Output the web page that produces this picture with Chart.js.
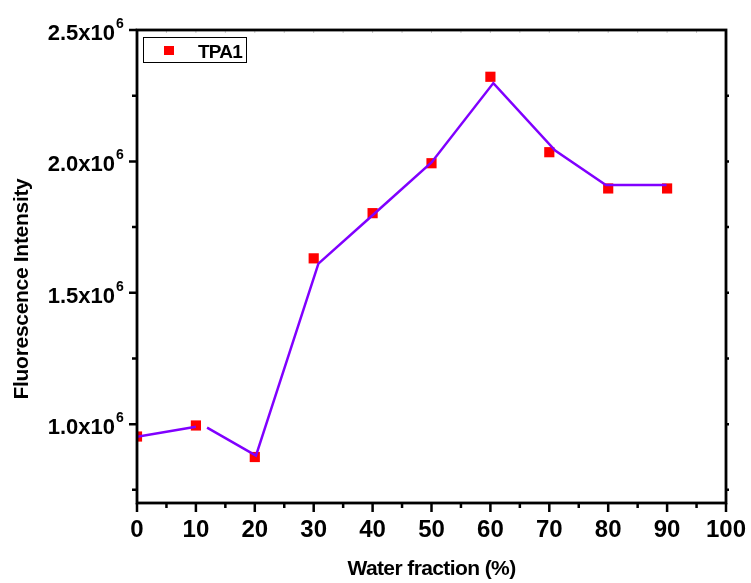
<!DOCTYPE html>
<html>
<head>
<meta charset="utf-8">
<script src="https://cdn.jsdelivr.net/npm/chart.js@4/dist/chart.umd.min.js"></script>
<style>
    html, body { margin: 0; padding: 0; background: #fff; }
    #wrap { width: 751px; height: 583px; }
</style>
</head>
<body>
<div id="wrap"><canvas id="chart-fluorescence"></canvas></div>
<script>
// Fluorescence intensity (x10^6) against water fraction (%)
const waterFraction = [0, 10, 20, 30, 40, 50, 60, 70, 80, 90];
const intensity = [0.953, 0.995, 0.875, 1.631, 1.803, 1.993, 2.322, 2.035, 1.897, 1.897];

// connecting trace (has a break just after 10 %)
const traceX = [0, 10, 11, 11.9, 20.2, 30.8, 40, 50, 60.5, 71, 79.6, 89.9];
const traceY = [0.952, 0.99, null, 0.987, 0.88, 1.611, 1.795, 1.996, 2.298, 2.041, 1.91, 1.91];

const xTicks = [0, 10, 20, 30, 40, 50, 60, 70, 80, 90, 100];
const yTicks = [1.0, 1.5, 2.0, 2.5];
const yMinorTicks = [0.75, 1.25, 1.75, 2.25];
const seriesLabel = 'TPA1';
const xTitle = 'Water fraction (%)';
const yTitle = 'Fluorescence Intensity';

const FONT = '"Liberation Sans", Arial, sans-serif';

// axes frame, tick marks, tick labels, titles and the boxed legend
const originFrame = {
    id: 'originFrame',
    afterDraw(chart) {
        const { ctx, chartArea: a, scales: { x, y } } = chart;
        ctx.save();
        ctx.strokeStyle = '#000';
        ctx.fillStyle = '#000';

        // ticks
        ctx.lineWidth = 2.5;
        ctx.beginPath();
        xTicks.forEach((v, i) => {
            const px = x.getPixelForValue(v);
            ctx.moveTo(px, a.bottom); ctx.lineTo(px, a.bottom + 9);
            if (i < xTicks.length - 1) {
                const pm = x.getPixelForValue(v + 5);
                ctx.moveTo(pm, a.bottom); ctx.lineTo(pm, a.bottom + 5);
            }
        });
        yTicks.forEach(v => {
            const py = y.getPixelForValue(v);
            ctx.moveTo(a.left - 8, py); ctx.lineTo(a.left, py);
        });
        yMinorTicks.forEach(v => {
            const py = y.getPixelForValue(v);
            ctx.moveTo(a.left - 5, py); ctx.lineTo(a.left, py);
            ctx.moveTo(a.right, py); ctx.lineTo(a.right + 3, py);
        });
        yTicks.slice(0, -1).forEach(v => {
            const py = y.getPixelForValue(v);
            ctx.moveTo(a.right, py); ctx.lineTo(a.right + 3, py);
        });
        ctx.stroke();

        // faint ticks under the top edge
        ctx.strokeStyle = '#c8c8c8';
        ctx.lineWidth = 1;
        ctx.beginPath();
        for (let v = 5; v < 100; v += 5) {
            const px = x.getPixelForValue(v);
            ctx.moveTo(px, a.top); ctx.lineTo(px, a.top + 3);
        }
        ctx.stroke();

        // frame
        ctx.strokeStyle = '#000';
        ctx.lineWidth = 2.8;
        ctx.strokeRect(a.left, a.top, a.right - a.left, a.bottom - a.top);

        // x tick labels
        ctx.font = 'bold 24px ' + FONT;
        ctx.textAlign = 'center';
        ctx.textBaseline = 'alphabetic';
        xTicks.forEach(v => ctx.fillText(String(v), x.getPixelForValue(v), a.bottom + 34));

        // y tick labels with x10^6 superscript
        yTicks.forEach(v => {
            const py = y.getPixelForValue(v);
            ctx.font = 'bold 22px ' + FONT;
            ctx.textAlign = 'right';
            ctx.fillText(v.toFixed(1) + 'x10', a.left - 22, py + 10);
            ctx.font = 'bold 14px ' + FONT;
            ctx.textAlign = 'left';
            ctx.fillText('6', a.left - 21, py - 2);
        });

        // axis titles
        ctx.font = 'bold 21px ' + FONT;
        ctx.textAlign = 'center';
        ctx.letterSpacing = '-0.6px';
        ctx.fillText(xTitle, (a.left + a.right) / 2, 575);
        ctx.save();
        ctx.translate(28, 289);
        ctx.rotate(-Math.PI / 2);
        ctx.letterSpacing = '-0.3px';
        ctx.fillText(yTitle, 0, 0);
        ctx.restore();

        // legend box
        const lx = a.left + 6, ly = a.top + 7;
        ctx.lineWidth = 1;
        ctx.strokeRect(lx + 0.5, ly + 0.5, 103, 25);
        const ds = chart.data.datasets.find(d => d.label === seriesLabel);
        ctx.fillStyle = ds.backgroundColor;
        ctx.fillRect(lx + 21, ly + 9, 10, 9);
        ctx.fillStyle = '#000';
        ctx.font = 'bold 19px ' + FONT;
        ctx.textAlign = 'left';
        ctx.letterSpacing = '-0.8px';
        ctx.fillText(ds.label, lx + 55, ly + 21);

        ctx.restore();
    }
};

new Chart(document.getElementById('chart-fluorescence'), {
    type: 'scatter',
    data: {
        datasets: [
            {
                label: 'trace',
                data: traceX.map((v, i) => ({ x: v, y: traceY[i] })),
                showLine: true,
                spanGaps: false,
                borderColor: '#8000ff',
                borderWidth: 2.5,
                pointRadius: 0,
                clip: 0,
                order: 0
            },
            {
                label: seriesLabel,
                data: waterFraction.map((v, i) => ({ x: v, y: intensity[i] })),
                pointStyle: 'rect',
                pointRadius: 7.2,
                backgroundColor: '#ff0000',
                borderColor: '#ff0000',
                borderWidth: 0,
                clip: 0,
                order: 1
            }
        ]
    },
    options: {
        responsive: true,
        maintainAspectRatio: false,
        animation: false,
        layout: { padding: { left: 137, right: 25, top: 30, bottom: 80 } },
        plugins: { legend: { display: false }, tooltip: { enabled: false } },
        scales: {
            x: { type: 'linear', min: 0, max: 100, display: false },
            y: { type: 'linear', min: 0.7, max: 2.5, display: false }
        }
    },
    plugins: [originFrame]
});
</script>
</body>
</html>
